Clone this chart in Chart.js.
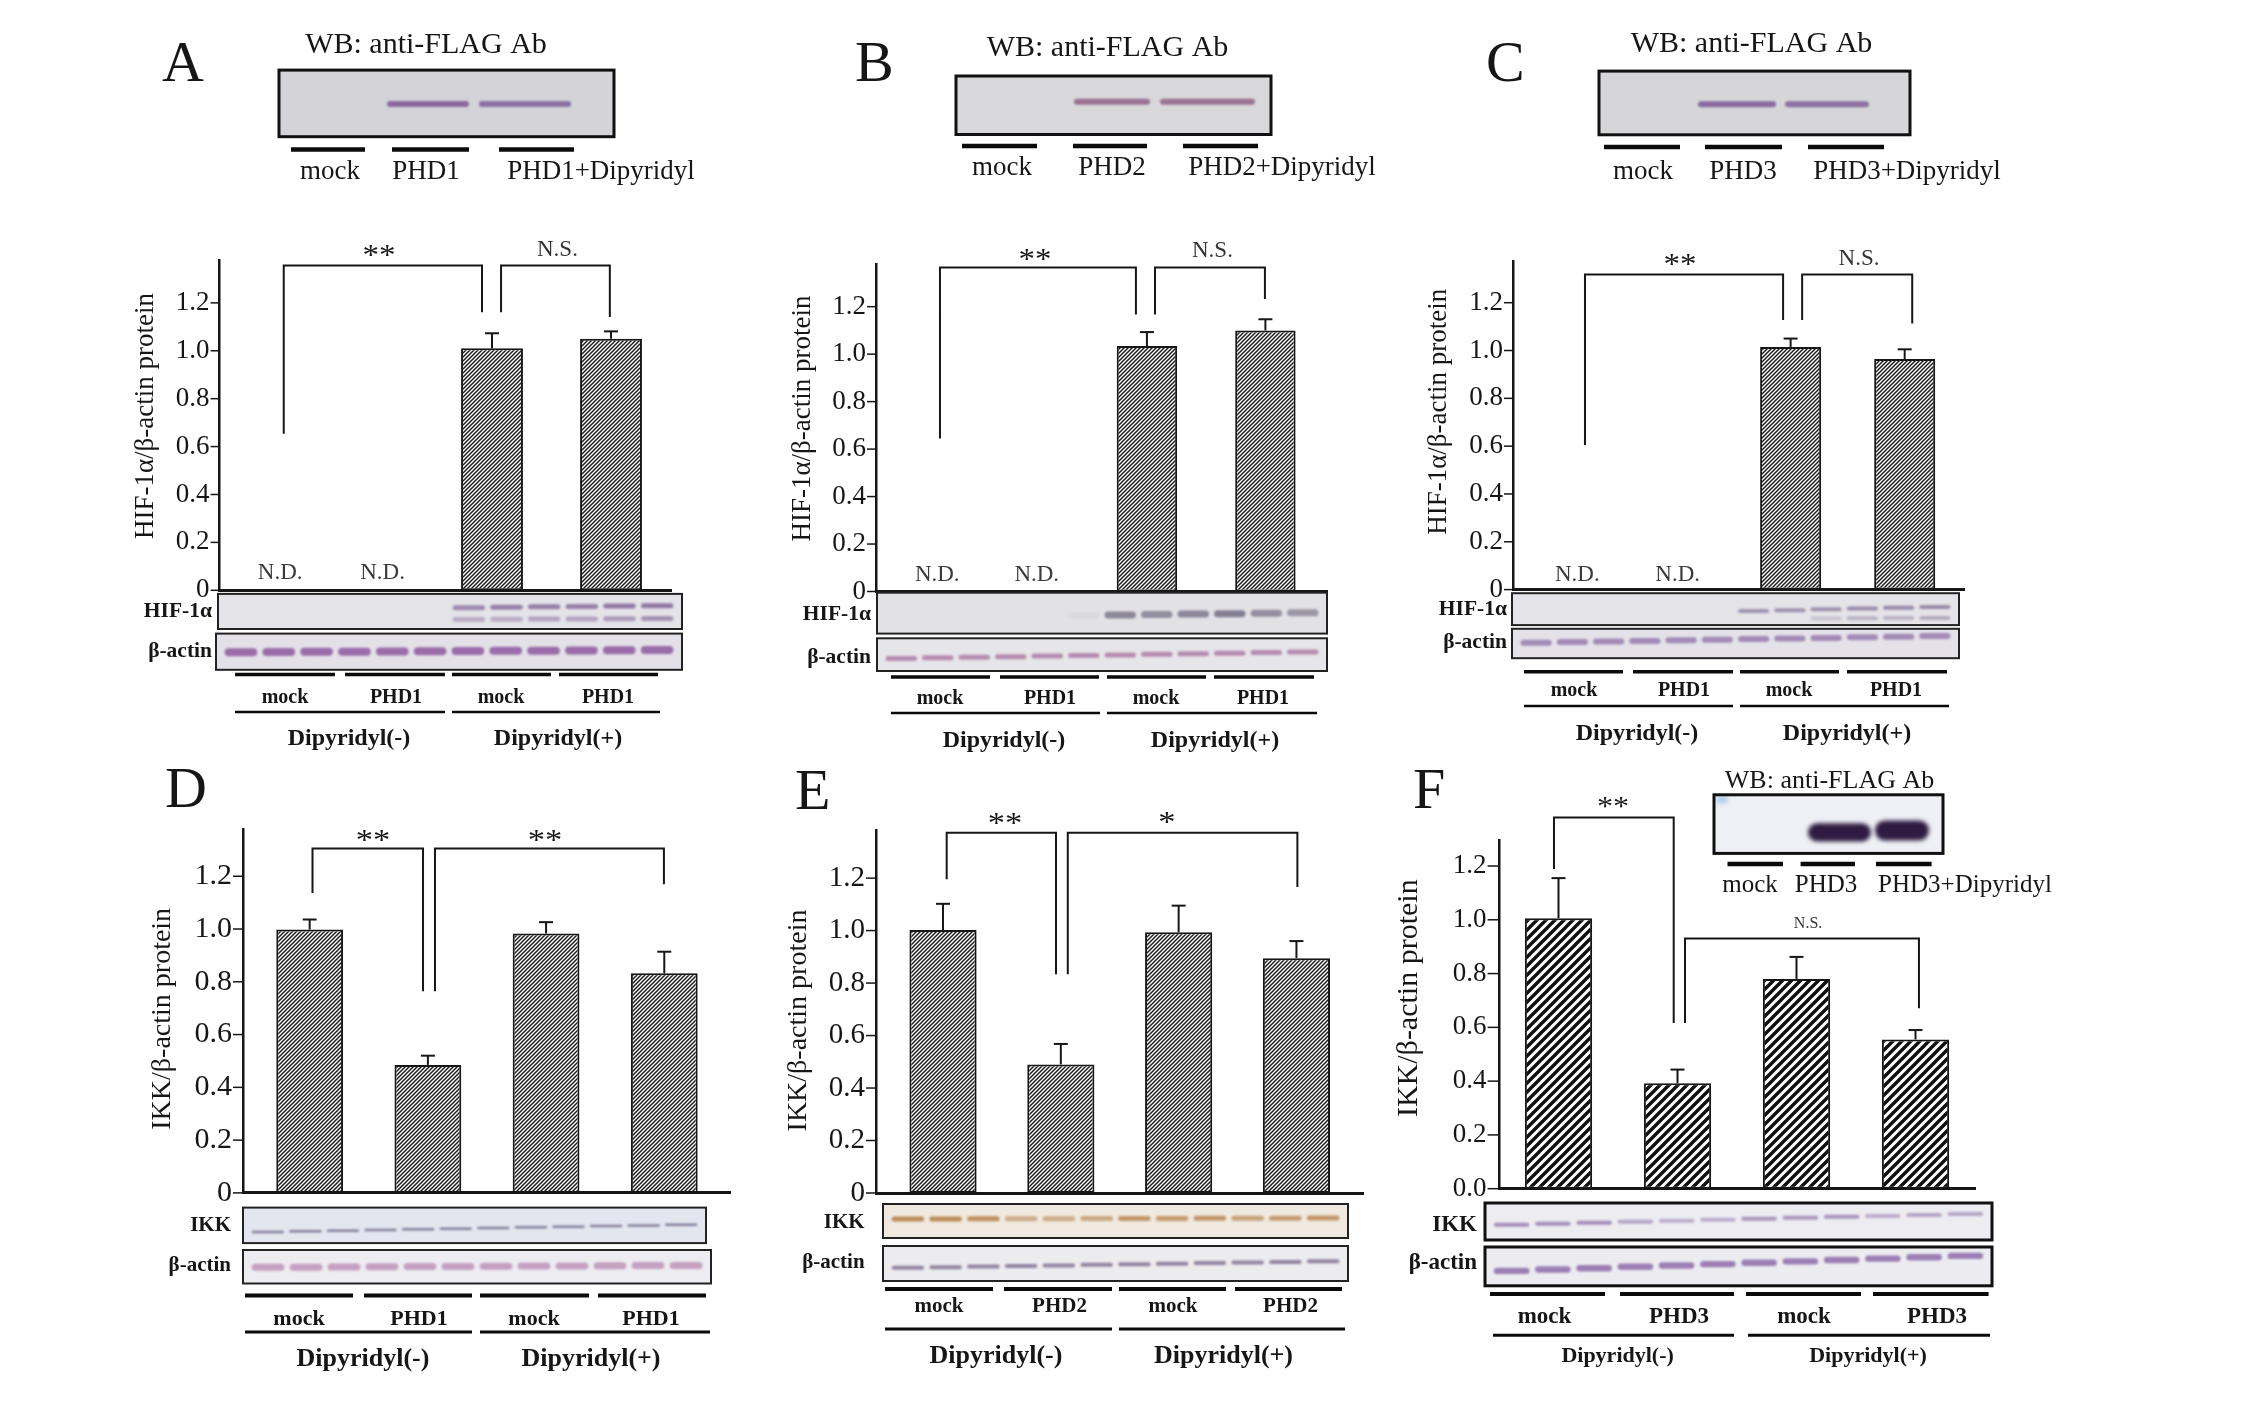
<!DOCTYPE html>
<html>
<head>
<meta charset="utf-8">
<script src="https://cdn.jsdelivr.net/npm/chart.js@4.4.1/dist/chart.umd.min.js"></script>
<style>
  html, body { margin: 0; padding: 0; background: #fff; }
  #stage { position: relative; width: 2256px; height: 1401px; overflow: hidden; background: #fff; }
  #stage canvas { position: absolute; left: 0; top: 0; }
</style>
</head>
<body>
<div id="stage"></div>
<script>
// ---- values ----
const yTicks = [0, 0.2, 0.4, 0.6, 0.8, 1.0, 1.2];
const yTickLabels = ['0', '0.2', '0.4', '0.6', '0.8', '1.0', '1.2'];
const yTickLabelsF = ['0.0', '0.2', '0.4', '0.6', '0.8', '1.0', '1.2'];
const groupLabels = ['Dipyridyl(-)', 'Dipyridyl(+)'];
const lanesPHD1 = ['mock', 'PHD1', 'mock', 'PHD1'];
const lanesPHD2 = ['mock', 'PHD2', 'mock', 'PHD2'];
const lanesPHD3 = ['mock', 'PHD3', 'mock', 'PHD3'];
const flagLanes1 = ['mock', 'PHD1', 'PHD1+Dipyridyl'];
const flagLanes2 = ['mock', 'PHD2', 'PHD2+Dipyridyl'];
const flagLanes3 = ['mock', 'PHD3', 'PHD3+Dipyridyl'];
const titleHIF = 'HIF-1α/β-actin protein';
const titleIKK = 'IKK/β-actin protein';
const flagTitle = 'WB: anti-FLAG Ab';

// bar heights (null = not detected) and SEM
const hifA = [null, null, 1.01, 1.05];
const hifAErr = [0, 0, 0.063, 0.031];
const hifB = [null, null, 1.034, 1.10];
const hifBErr = [0, 0, 0.059, 0.047];
const hifC = [null, null, 1.015, 0.964];
const hifCErr = [0, 0, 0.035, 0.041];
const ikkD = [0.998, 0.485, 0.983, 0.832];
const ikkDErr = [0.038, 0.035, 0.043, 0.082];
const ikkE = [1.002, 0.49, 0.994, 0.895];
const ikkEErr = [0.10, 0.078, 0.101, 0.065];
const ikkF = [1.006, 0.392, 0.78, 0.555];
const ikkFErr = [0.149, 0.051, 0.082, 0.035];

// N.D. label positions (category units)
const ndA = [0.22, 1.08];
const ndB = [0.23, 1.07];
const ndC = [0.13, 1.01];

// significance brackets: [x1, y1, x2, y2, yTop, label, labelX, labelY]
const bracketsA = [[0.25, 0.654, 1.916, 1.161, 1.356, '**', 1.05, 1.427],
                   [2.076, 1.161, 2.99, 1.141, 1.356, 'N.S.', 2.55, 1.395]];
const bracketsB = [[0.253, 0.645, 1.907, 1.167, 1.365, '**', 1.055, 1.431],
                   [2.068, 1.167, 2.996, 1.232, 1.365, 'N.S.', 2.553, 1.409]];
const bracketsC = [[0.197, 0.605, 1.934, 1.128, 1.318, '**', 1.031, 1.392],
                   [2.101, 1.128, 3.066, 1.113, 1.318, 'N.S.', 2.60, 1.359]];
const bracketsD = [[0.024, 1.136, 0.959, 0.764, 1.305, '**', 0.536, 1.364],
                   [1.06, 0.764, 2.997, 1.170, 1.305, '**', 1.99, 1.364]];
const bracketsE = [[0.031, 1.196, 0.959, 0.834, 1.373, '**', 0.526, 1.438],
                   [1.059, 0.834, 3.008, 1.166, 1.373, '*', 1.90, 1.441]];
const bracketsF = [[-0.038, 1.189, 0.968, 0.616, 1.380, '**', 0.458, 1.446],
                   [1.063, 0.616, 3.029, 0.671, 0.930, 'N.S.', 2.097, 0.971]];

// ---- drawing helpers ----
const W = 2256, H = 1401;
const SERIF = '"Liberation Serif", "Times New Roman", serif';
const INK = '#161616';
const stage = document.getElementById('stage');

function hatch(step, lw, ink) {
  const c = document.createElement('canvas');
  c.width = c.height = step;
  const g = c.getContext('2d');
  g.fillStyle = '#fff'; g.fillRect(0, 0, step, step);
  g.strokeStyle = ink; g.lineWidth = lw;
  g.beginPath();
  g.moveTo(0, step); g.lineTo(step, 0);
  g.moveTo(-step / 2, step / 2); g.lineTo(step / 2, -step / 2);
  g.moveTo(step / 2, step * 1.5); g.lineTo(step * 1.5, step / 2);
  g.stroke();
  return g.createPattern(c, 'repeat');
}
const fineHatch = hatch(4, 1.5, '#1c1c1c');
const coarseHatch = hatch(9, 3.4, '#101010');

function txt(ctx, s, x, y, o) {
  ctx.save();
  ctx.font = (o.bold ? 'bold ' : '') + o.size + 'px ' + SERIF;
  ctx.fillStyle = o.color || INK;
  ctx.textAlign = o.align || 'center';
  ctx.textBaseline = o.base || 'alphabetic';
  ctx.translate(x, y);
  if (o.rot) ctx.rotate(o.rot);
  ctx.scale(o.sx || 1, 1);
  ctx.fillText(s, 0, 0);
  ctx.restore();
}
function line(ctx, x1, y1, x2, y2, w, color) {
  ctx.save();
  ctx.strokeStyle = color || INK; ctx.lineWidth = w;
  ctx.beginPath(); ctx.moveTo(x1, y1); ctx.lineTo(x2, y2); ctx.stroke();
  ctx.restore();
}
function pill(ctx, x, y, w, h) {
  ctx.beginPath();
  if (ctx.roundRect) ctx.roundRect(x, y, w, h, h / 2); else ctx.rect(x, y, w, h);
  ctx.fill();
}
function drawBlot(ctx, b) {
  const [x, y, w, h] = b.box;
  ctx.save();
  ctx.fillStyle = b.bg; ctx.fillRect(x, y, w, h);
  ctx.filter = 'blur(' + (b.blur || 1) + 'px)';
  (b.segs || []).forEach(s => {
    ctx.fillStyle = 'rgba(' + s.c + ',' + s.a + ')';
    pill(ctx, s.x1, s.y - s.h / 2, s.x2 - s.x1, s.h);
  });
  const n = 12, pad = b.pad || 6, lw = (w - 2 * pad) / n;
  (b.lanes || []).forEach(bd => {
    for (let i = 0; i < n; i++) {
      const a = bd.a[i]; if (!a) continue;
      const cx = x + pad + (i + 0.5) * lw;
      const cy = bd.y0 + (bd.y1 - bd.y0) * (i + 0.5) / n;
      ctx.fillStyle = 'rgba(' + bd.c + ',' + a + ')';
      pill(ctx, cx - lw * 0.43, cy - bd.h / 2, lw * 0.86, bd.h);
    }
  });
  ctx.filter = 'none';
  ctx.strokeStyle = b.border || '#222'; ctx.lineWidth = b.bw || 2;
  ctx.strokeRect(x, y, w, h);
  ctx.restore();
}
const rep = (v, n) => Array(n).fill(v);

// ---- panel layouts ----
const topText = { tick: 27, nd: 23, ns: 23, sig: 30 };
const panels = [
  { id: 'A', values: hifA, errors: hifAErr, brackets: bracketsA, nd: ndA, ndY: 0.049,
    L: 219.6, R: 671, T: 260.7, Z: 590.3, xmin: -0.289, xmax: 3.504, ymax: 1.376, barPct: 0.52, pattern: fineHatch,
    tickLabels: yTickLabels, tickSize: topText.tick, tickSx: 1, tickLen: 9,
    title: { text: titleHIF, x: 146, y: 416, size: 27 },
    sig: { size: topText.sig, sx: 1.1 }, ns: { size: topText.ns, sx: 1 }, ndFont: { size: topText.nd, sx: 1 },
    letter: { s: 'A', x: 162, y: 80.7, size: 58 },
    flag: { tx: 426, ty: 52.6, tsize: 30, tsx: 1,
      blot: { box: [279, 70.1, 335, 66.6], bg: '#d4d4d8', border: '#111', bw: 3,
        segs: [{ x1: 387, x2: 469, y: 104, h: 6, c: '110,70,140', a: 0.75 }, { x1: 479, x2: 571, y: 104, h: 6, c: '110,70,140', a: 0.7 }] },
      uy: 149.6, uw: 4.5, useg: [[291, 365], [392, 469], [499, 574]],
      ly: 178.9, lxs: [330, 426, 601], lsize: 27, lsx: 1, lanes: flagLanes1 },
    blots: [
      { label: 'HIF-1α', ly: 611.4, box: [218, 593.9, 464, 35.1], bg: '#e4e3e8',
        lanes: [{ y0: 610.2, y1: 605.5, h: 5, c: '90,50,120', a: [0, 0, 0, 0, 0, 0, .5, .55, .55, .55, .6, .6] },
                { y0: 620.7, y1: 618.4, h: 5, c: '90,50,120', a: [0, 0, 0, 0, 0, 0, .3, .3, .35, .35, .4, .45] }] },
      { label: 'β-actin', ly: 651.1, box: [216, 633.6, 466, 36.2], bg: '#e3e1e7',
        lanes: [{ y0: 652.3, y1: 650, h: 8, c: '130,70,150', a: rep(0.75, 12) }] } ],
    blotLabelX: 212, blotLabelSize: 21.5, blotLabelSx: 1,
    lanes: lanesPHD1, laneY: 674.5, laneW: 3.5, laneSegs: [[235, 335], [345, 445], [452, 551], [559, 658]],
    laneLabelY: 702.6, laneXs: [285, 396, 501, 608], laneSize: 20,
    groupY: 711.9, groupW: 2.5, groupSegs: [[235, 445], [452, 660]], groupLabelY: 744.7, groupXs: [349, 558], groupSize: 24 },

  { id: 'B', values: hifB, errors: hifBErr, brackets: bracketsB, nd: ndB, ndY: 0.044,
    L: 876, R: 1327, T: 264.2, Z: 591.5, xmin: -0.287, xmax: 3.52, ymax: 1.379, barPct: 0.51, pattern: fineHatch,
    tickLabels: yTickLabels, tickSize: topText.tick, tickSx: 1, tickLen: 9,
    title: { text: titleHIF, x: 803, y: 418.5, size: 27 },
    sig: { size: topText.sig, sx: 1.1 }, ns: { size: topText.ns, sx: 1 }, ndFont: { size: topText.nd, sx: 1 },
    letter: { s: 'B', x: 855, y: 80.7, size: 58 },
    flag: { tx: 1107.5, ty: 56.1, tsize: 30, tsx: 1,
      blot: { box: [956, 76, 315, 58.5], bg: '#d8d8da', border: '#111', bw: 3,
        segs: [{ x1: 1074, x2: 1150, y: 101.7, h: 6, c: '130,70,120', a: 0.7 }, { x1: 1160, x2: 1255, y: 101.7, h: 6, c: '130,70,120', a: 0.7 }] },
      uy: 146.1, uw: 4.5, useg: [[962, 1037], [1073, 1147], [1183, 1258]],
      ly: 175.4, lxs: [1002, 1112, 1282], lsize: 27, lsx: 1, lanes: flagLanes2 },
    blots: [
      { label: 'HIF-1α', ly: 614.9, box: [877, 592.7, 450, 40.9], bg: '#e2e2e6',
        lanes: [{ y0: 617.8, y1: 612.6, h: 7, c: '70,60,90', a: [0, 0, 0, 0, 0, .05, .55, .5, .55, .6, .5, .45] }] },
      { label: 'β-actin', ly: 657, box: [877, 638.3, 450, 32.7], bg: '#e6e5e9',
        lanes: [{ y0: 658.7, y1: 651.7, h: 5, c: '150,80,140', a: rep(0.6, 12) }] } ],
    blotLabelX: 871, blotLabelSize: 21.5, blotLabelSx: 1,
    lanes: lanesPHD1, laneY: 676.9, laneW: 3.5, laneSegs: [[891, 990], [1000, 1099], [1107, 1206], [1214, 1314]],
    laneLabelY: 703.7, laneXs: [940, 1050, 1156, 1263], laneSize: 20,
    groupY: 713.1, groupW: 2.5, groupSegs: [[891, 1100], [1107, 1317]], groupLabelY: 747, groupXs: [1004, 1215], groupSize: 24 },

  { id: 'C', values: hifC, errors: hifCErr, brackets: bracketsC, nd: ndC, ndY: 0.036,
    L: 1513, R: 1964, T: 261.1, Z: 589.6, xmin: -0.434, xmax: 3.52, ymax: 1.374, barPct: 0.535, pattern: fineHatch,
    tickLabels: yTickLabels, tickSize: topText.tick, tickSx: 1, tickLen: 9,
    title: { text: titleHIF, x: 1439, y: 411.8, size: 27 },
    sig: { size: topText.sig, sx: 1.1 }, ns: { size: topText.ns, sx: 1 }, ndFont: { size: topText.nd, sx: 1 },
    letter: { s: 'C', x: 1486, y: 80.9, size: 58 },
    flag: { tx: 1751.5, ty: 51.5, tsize: 30, tsx: 1,
      blot: { box: [1599, 71.1, 311, 63.7], bg: '#d6d6d9', border: '#111', bw: 3,
        segs: [{ x1: 1698, x2: 1776, y: 104.2, h: 6, c: '110,70,140', a: 0.75 }, { x1: 1785, x2: 1869, y: 104.2, h: 6, c: '110,70,140', a: 0.7 }] },
      uy: 147.1, uw: 4.5, useg: [[1604, 1680], [1705, 1782], [1808, 1884]],
      ly: 179, lxs: [1643, 1743, 1907], lsize: 27, lsx: 1, lanes: flagLanes3 },
    blots: [
      { label: 'HIF-1α', ly: 609.2, box: [1512, 593.2, 447, 31.9], bg: '#e4e3e8',
        lanes: [{ y0: 616.3, y1: 606.5, h: 4, c: '90,70,120', a: [0, 0, 0, 0, 0, 0, .5, .5, .5, .55, .55, .55] },
                { y0: 620.2, y1: 617.8, h: 4, c: '90,70,120', a: [0, 0, 0, 0, 0, 0, 0, 0, .2, .3, .3, .35] }] },
      { label: 'β-actin', ly: 642.3, box: [1512, 628.8, 447, 29.4], bg: '#e4e2e8',
        lanes: [{ y0: 643, y1: 635.8, h: 6, c: '120,80,150', a: rep(0.6, 12) }] } ],
    blotLabelX: 1507, blotLabelSize: 21.5, blotLabelSx: 1,
    lanes: lanesPHD1, laneY: 671.7, laneW: 3.5, laneSegs: [[1524, 1623], [1633, 1733], [1740, 1839], [1847, 1947]],
    laneLabelY: 696.2, laneXs: [1574, 1684, 1789, 1896], laneSize: 20,
    groupY: 706, groupW: 2.5, groupSegs: [[1524, 1733], [1740, 1949]], groupLabelY: 740.3, groupXs: [1637, 1847], groupSize: 24 },

  { id: 'D', values: ikkD, errors: ikkDErr, brackets: bracketsD, nd: [], ndY: 0,
    L: 243, R: 730, T: 829, Z: 1192.9, xmin: -0.564, xmax: 3.556, ymax: 1.379, barPct: 0.565, pattern: fineHatch,
    tickLabels: yTickLabels, tickSize: 30, tickSx: 1.0, tickLen: 10,
    title: { text: titleIKK, x: 162.5, y: 1018.8, size: 28 },
    sig: { size: 30, sx: 1.15 }, ns: { size: 19, sx: 1 }, ndFont: { size: 19, sx: 1 },
    letter: { s: 'D', x: 165, y: 807.3, size: 58 },
    blots: [
      { label: 'IKK', ly: 1225.4, box: [243, 1207.6, 463, 35.5], bg: '#e4e6ef',
        lanes: [{ y0: 1232.3, y1: 1224.4, h: 2.5, c: '80,70,110', a: rep(0.65, 12) }] },
      { label: 'β-actin', ly: 1265.3, box: [243, 1250, 468, 33.5], bg: '#edecf1',
        lanes: [{ y0: 1267.4, y1: 1265.3, h: 7, c: '170,110,160', a: rep(0.6, 12) }] } ],
    blotLabelX: 231, blotLabelSize: 21, blotLabelSx: 1.0,
    lanes: lanesPHD1, laneY: 1295.4, laneW: 4, laneSegs: [[245, 353], [364, 472], [480, 589], [598, 706]],
    laneLabelY: 1325, laneXs: [299, 419, 534, 651], laneSize: 22,
    groupY: 1331.9, groupW: 3, groupSegs: [[245, 472], [480, 710]], groupLabelY: 1366.4, groupXs: [363, 591], groupSize: 26 },

  { id: 'E', values: ikkE, errors: ikkEErr, brackets: bracketsE, nd: [], ndY: 0,
    L: 876, R: 1363, T: 830.6, Z: 1193, xmin: -0.569, xmax: 3.565, ymax: 1.381, barPct: 0.57, pattern: fineHatch,
    tickLabels: yTickLabels, tickSize: 29, tickSx: 1, tickLen: 10,
    title: { text: titleIKK, x: 799, y: 1020.5, size: 28 },
    sig: { size: 30, sx: 1.15 }, ns: { size: 19, sx: 1 }, ndFont: { size: 19, sx: 1 },
    letter: { s: 'E', x: 795, y: 809, size: 58 },
    blots: [
      { label: 'IKK', ly: 1222.8, box: [883, 1204, 465, 34], bg: '#efe9df',
        lanes: [{ y0: 1219, y1: 1218, h: 5, c: '175,115,55', a: [.8, .8, .75, .5, .5, .55, .7, .65, .7, .6, .65, .7] }] },
      { label: 'β-actin', ly: 1262.6, box: [883, 1246, 465, 35], bg: '#ecebee',
        lanes: [{ y0: 1268, y1: 1261, h: 4, c: '110,90,130', a: rep(0.7, 12) }] } ],
    blotLabelX: 864.6, blotLabelSize: 21, blotLabelSx: 1.0,
    lanes: lanesPHD2, laneY: 1289, laneW: 4, laneSegs: [[885, 993], [1004, 1112], [1119, 1226], [1235, 1342]],
    laneLabelY: 1312, laneXs: [939, 1059.5, 1173, 1290.5], laneSize: 21,
    groupY: 1329, groupW: 3, groupSegs: [[885, 1112], [1119, 1345]], groupLabelY: 1363, groupXs: [996, 1223.5], groupSize: 26 },

  { id: 'F', values: ikkF, errors: ikkFErr, brackets: bracketsF, nd: [], ndY: 0,
    L: 1499.6, R: 1975.6, T: 840.2, Z: 1188.7, xmin: -0.495, xmax: 3.505, ymax: 1.296, barPct: 0.565, pattern: coarseHatch,
    tickLabels: yTickLabelsF, tickSize: 27, tickSx: 1, tickLen: 12,
    title: { text: titleIKK, x: 1409, y: 998.2, size: 30 },
    sig: { size: 28, sx: 1.15 }, ns: { size: 16, sx: 1 }, ndFont: { size: 19, sx: 1 },
    letter: { s: 'F', x: 1413, y: 807.6, size: 58 },
    flag: { tx: 1829.5, ty: 787.9, tsize: 26, tsx: 1,
      blot: { box: [1714, 794.8, 229, 58.6], bg: '#eef0f5', border: '#111', bw: 3, blur: 2,
        segs: [{ x1: 1716, x2: 1728, y: 799.4, h: 8, c: '120,170,230', a: 0.5 },
               { x1: 1808, x2: 1871, y: 832.4, h: 18.3, c: '35,15,55', a: 0.95 }, { x1: 1875, x2: 1929, y: 830.5, h: 20.2, c: '35,15,55', a: 0.95 }] },
      uy: 864, uw: 4.5, useg: [[1727.5, 1783], [1800.6, 1855], [1876, 1931.6]],
      ly: 892.4, lxs: [1750, 1826, 1965], lsize: 25, lsx: 1.0, lanes: flagLanes3 },
    blots: [
      { label: 'IKK', ly: 1225.3, box: [1485, 1203, 507, 37], bg: '#ececf1', border: '#111', bw: 3,
        lanes: [{ y0: 1225.3, y1: 1213.4, h: 4, c: '120,80,150', a: [.6, .6, .6, .45, .4, .4, .55, .55, .55, .4, .45, .45] }] },
      { label: 'β-actin', ly: 1263.4, box: [1485, 1247, 507, 38.8], bg: '#ececf0', border: '#111', bw: 3,
        lanes: [{ y0: 1271.6, y1: 1255.2, h: 6.4, c: '130,90,160', a: rep(0.75, 12) }] } ],
    blotLabelX: 1477, blotLabelSize: 23, blotLabelSx: 1.0,
    lanes: lanesPHD3, laneY: 1294, laneW: 4, laneSegs: [[1490, 1605], [1620, 1734], [1746, 1861], [1873, 1988.6]],
    laneLabelY: 1323, laneXs: [1544.5, 1679, 1804, 1937], laneSize: 23,
    groupY: 1335.2, groupW: 3, groupSegs: [[1493, 1734], [1748, 1990]], groupLabelY: 1361.8, groupXs: [1617.6, 1868], groupSize: 22 }
];

// ---- per-panel overlay: error bars, ticks, brackets, blots, labels ----
function decorPlugin(p) {
  return {
    id: 'decor' + p.id,
    afterDraw(chart) {
      const ctx = chart.ctx, xs = chart.scales.x, ys = chart.scales.y;
      const px = v => xs.getPixelForValue(v), py = v => ys.getPixelForValue(v);
      const left = chart.chartArea.left;

      // error bars
      p.values.forEach((v, i) => {
        if (v == null) return;
        const x = px(i), y0 = py(v), y1 = py(v + p.errors[i]);
        line(ctx, x, y0, x, y1, 2);
        line(ctx, x - 7, y1, x + 7, y1, 2);
      });

      // y ticks and labels
      yTicks.forEach((t, i) => {
        const y = py(t);
        line(ctx, left - p.tickLen, y, left, y, 1.5);
        txt(ctx, p.tickLabels[i], left - p.tickLen - 1, y,
            { size: p.tickSize, sx: p.tickSx, align: 'right', base: 'middle' });
      });
      txt(ctx, p.title.text, p.title.x, p.title.y,
          { size: p.title.size, rot: -Math.PI / 2, base: 'middle' });

      // significance brackets
      p.brackets.forEach(([x1, y1, x2, y2, yt, label, lx, ly]) => {
        ctx.save();
        ctx.strokeStyle = INK; ctx.lineWidth = 2;
        ctx.beginPath();
        ctx.moveTo(px(x1), py(y1)); ctx.lineTo(px(x1), py(yt));
        ctx.lineTo(px(x2), py(yt)); ctx.lineTo(px(x2), py(y2));
        ctx.stroke();
        ctx.restore();
        if (label.startsWith('*')) {
          txt(ctx, label, px(lx), py(ly) + 0.53 * p.sig.size, { size: p.sig.size, sx: p.sig.sx });
        } else {
          txt(ctx, label, px(lx), py(ly), { size: p.ns.size, sx: p.ns.sx, color: '#333' });
        }
      });
      p.nd.forEach(x => txt(ctx, 'N.D.', px(x), py(p.ndY), { size: p.ndFont.size, sx: p.ndFont.sx, color: '#3a3a3a' }));

      // panel letter
      txt(ctx, p.letter.s, p.letter.x, p.letter.y, { size: p.letter.size, align: 'left' });

      // anti-FLAG blot
      if (p.flag) {
        const f = p.flag;
        txt(ctx, flagTitle, f.tx, f.ty, { size: f.tsize, sx: f.tsx });
        drawBlot(ctx, f.blot);
        f.useg.forEach(([a, b]) => line(ctx, a, f.uy, b, f.uy, f.uw, '#0a0a0a'));
        f.lanes.forEach((s, i) => txt(ctx, s, f.lxs[i], f.ly, { size: f.lsize, sx: f.lsx }));
      }

      // HIF/IKK and beta-actin blots
      p.blots.forEach(b => {
        drawBlot(ctx, b);
        txt(ctx, b.label, p.blotLabelX, b.ly, { size: p.blotLabelSize, sx: p.blotLabelSx, bold: true, align: 'right', base: 'middle' });
      });
      p.laneSegs.forEach(([a, b]) => line(ctx, a, p.laneY, b, p.laneY, p.laneW, '#0a0a0a'));
      p.lanes.forEach((s, i) => txt(ctx, s, p.laneXs[i], p.laneLabelY, { size: p.laneSize, bold: true }));
      p.groupSegs.forEach(([a, b]) => line(ctx, a, p.groupY, b, p.groupY, p.groupW, '#0a0a0a'));
      groupLabels.forEach((s, i) => txt(ctx, s, p.groupXs[i], p.groupLabelY, { size: p.groupSize, bold: true }));
    }
  };
}

panels.forEach(p => {
  const canvas = document.createElement('canvas');
  canvas.width = W; canvas.height = H;
  canvas.style.width = W + 'px'; canvas.style.height = H + 'px';
  stage.appendChild(canvas);
  new Chart(canvas, {
    type: 'bar',
    data: {
      datasets: [{
        data: p.values.map((v, i) => ({ x: i, y: v })),
        backgroundColor: p.pattern,
        borderColor: INK,
        borderWidth: 2,
        borderSkipped: false,
        categoryPercentage: 1,
        barPercentage: p.barPct
      }]
    },
    options: {
      responsive: false,
      animation: false,
      devicePixelRatio: 1,
      layout: { autoPadding: false, padding: { left: p.L, top: p.T, right: W - p.R, bottom: H - p.Z } },
      plugins: { legend: { display: false }, tooltip: { enabled: false } },
      scales: {
        x: {
          type: 'linear', min: p.xmin, max: p.xmax, offset: false,
          ticks: { display: false, stepSize: 1, includeBounds: false },
          grid: { display: false },
          border: { display: true, color: INK, width: 3 },
          afterFit: s => { s.height = 0; }
        },
        y: {
          min: 0, max: p.ymax,
          ticks: { display: false },
          grid: { display: false },
          border: { display: true, color: INK, width: 2.5 },
          afterFit: s => { s.width = 0; }
        }
      }
    },
    plugins: [decorPlugin(p)]
  });
});
</script>
</body>
</html>
